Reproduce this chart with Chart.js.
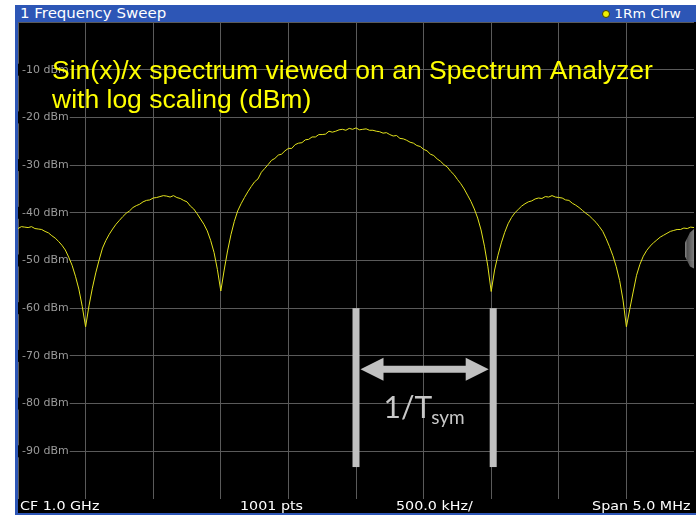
<!DOCTYPE html>
<html>
<head>
<meta charset="utf-8">
<script src="https://cdn.jsdelivr.net/npm/chart.js@4/dist/chart.umd.min.js"></script>
<style>
  html, body { margin: 0; padding: 0; background: #fff; }
  body { width: 696px; height: 517px; position: relative; overflow: hidden; font-family: "DejaVu Sans", sans-serif; }
  #frame { position: absolute; left: 15px; top: 5px; width: 681px; height: 510px; background: #000;
           box-sizing: border-box; border-left: 3px solid #2d56b6; border-bottom: 2px solid #2d56b6; }
  #titlebar { position: absolute; left: 15px; top: 5px; width: 681px; height: 17px; background: #2d56b6; color: #fff;
              font-size: 14px; line-height: 17px; white-space: nowrap; }
  #titlebar span { position: absolute; top: 0; display: inline-block; }
  #titlebar .left { left: 5px; transform: scaleX(1.07); transform-origin: left center; }
  #titlebar .right { right: 15px; font-size: 13px; transform: scaleX(1.06); transform-origin: right center; }
  #titlebar .dot { right: 86px; top: 5px; width: 6px; height: 6px; border-radius: 50%;
                   background: #f0f000; border: 1px solid #404000; }
  #footer { position: absolute; left: 18px; top: 499px; width: 678px; height: 14px; background: #000; color: #fff;
            font-size: 13px; line-height: 14px; white-space: nowrap; }
  #footer span { position: absolute; top: 0; display: inline-block; transform: scaleX(1.1); transform-origin: left center; }
  #footer span.r { transform-origin: right center; }
  #plot { position: absolute; left: 18px; top: 22px; }
</style>
</head>
<body>
<div id="frame"></div>
<div id="titlebar"><span class="left">1 Frequency Sweep</span><span class="dot"></span><span class="right">1Rm Clrw</span></div>
<canvas id="plot" width="676" height="477"></canvas>
<div id="footer">
  <span style="left:2px">CF 1.0 GHz</span>
  <span style="left:222px">1001 pts</span>
  <span style="left:378px">500.0 kHz/</span>
  <span class="r" style="right:6px">Span 5.0 MHz</span>
</div>
<script>
// Sweep grid: offset from the 1.0 GHz centre frequency, in MHz (span 5 MHz)
const sweepStartMHz = -2.5;
const sweepStepMHz = 0.025;
const sweepOffsetMHz = Array.from({ length: 201 }, (_, i) => +(sweepStartMHz + i * sweepStepMHz).toFixed(3));

// Measured trace level in dBm at each sweep point
const traceLevelDbm = [
  -43.3, -42.9, -43.0, -43.1, -42.9, -43.3, -43.4, -43.5, -43.9, -44.2,
  -44.8, -45.3, -46.0, -46.8, -47.8, -49.3, -51.0, -53.3, -56.0, -59.6,
  -63.9, -59.5, -55.8, -52.6, -49.9, -47.4, -45.8, -44.5, -43.4, -42.4,
  -41.6, -40.8, -40.1, -39.6, -38.9, -38.5, -38.2, -37.7, -37.4, -37.3,
  -36.9, -36.8, -36.6, -36.4, -36.5, -36.7, -36.4, -36.8, -37.0, -37.4,
  -37.7, -38.6, -39.2, -40.2, -41.3, -42.4, -43.8, -45.8, -48.3, -51.9,
  -56.4, -52.0, -48.0, -44.6, -41.8, -39.6, -38.1, -36.8, -35.6, -34.5,
  -33.5, -32.9, -31.5, -30.7, -29.9, -29.0, -28.6, -27.9, -27.7, -27.0,
  -26.5, -26.5, -25.7, -25.4, -25.3, -24.7, -24.6, -24.1, -24.1, -23.6,
  -23.6, -23.5, -22.9, -23.1, -22.9, -22.6, -22.5, -22.7, -22.3, -22.5,
  -22.2, -22.6, -22.5, -22.4, -22.7, -22.7, -22.9, -23.0, -23.3, -23.2,
  -23.6, -23.9, -23.8, -24.4, -24.5, -24.8, -25.2, -25.4, -25.9, -26.1,
  -26.7, -27.0, -27.7, -28.0, -28.7, -29.2, -29.9, -30.4, -31.3, -32.0,
  -33.0, -33.9, -35.0, -36.3, -37.6, -39.2, -41.1, -43.6, -47.0, -51.2,
  -56.5, -52.0, -48.9, -46.3, -44.1, -42.3, -41.0, -40.0, -39.3, -38.6,
  -38.1, -37.7, -37.5, -37.1, -36.9, -37.0, -36.6, -36.7, -36.4, -36.7,
  -36.8, -36.9, -37.3, -37.4, -38.0, -38.4, -38.9, -39.5, -40.1, -40.6,
  -41.3, -42.0, -42.9, -43.9, -45.4, -47.1, -49.0, -51.3, -54.2, -58.3,
  -63.9, -60.2, -56.6, -53.1, -50.8, -49.1, -47.9, -47.0, -46.3, -45.7,
  -45.1, -44.7, -44.3, -43.9, -43.7, -43.5, -43.5, -43.2, -43.3, -43.0,
  -43.1
];

// Reference level grid
const yTickValues = [-10, -20, -30, -40, -50, -60, -70, -80, -90];
const yTickLabels = ['-10 dBm', '-20 dBm', '-30 dBm', '-40 dBm', '-50 dBm', '-60 dBm', '-70 dBm', '-80 dBm', '-90 dBm'];

// Symbol-rate marker: main-lobe centre to first null, and where the bracket sits in level
const tsymFromMHz = 0;
const tsymToMHz = 1.0;
const tsymBarTopDbm = -60;
const tsymBarBottomDbm = -93.3;
const tsymArrowDbm = -72.8;
const tsymTextDbm = -83.0;

const noteLines = ['Sin(x)/x spectrum viewed on an Spectrum Analyzer', 'with log scaling (dBm)'];

// Level labels sit inside the grid on a black patch, under the trace
const levelLabels = {
  id: 'levelLabels',
  beforeDatasetsDraw(chart) {
    const { ctx, chartArea, scales: { y } } = chart;
    ctx.save();
    ctx.font = '11px "DejaVu Sans"';
    ctx.textBaseline = 'middle';
    yTickValues.forEach((v, i) => {
      const py = y.getPixelForValue(v);
      const w = ctx.measureText(yTickLabels[i]).width;
      ctx.fillStyle = '#000';
      ctx.fillRect(chartArea.left, py - 6, 4 + w + 1, 12);
      ctx.fillStyle = '#9a9a9a';
      ctx.fillText(yTickLabels[i], chartArea.left + 4, py);
    });
    ctx.restore();
  }
};

// Overlays: the 1/Tsym bracket, the explanatory note and the side handle
const overlays = {
  id: 'overlays',
  afterDatasetsDraw(chart) {
    const { ctx, chartArea, scales: { x, y } } = chart;
    ctx.save();

    // side handle at the right edge
    const hy = y.getPixelForValue(-47.5);
    const hx = chartArea.right;
    const g = ctx.createLinearGradient(hx - 10, 0, hx, 0);
    g.addColorStop(0, 'rgba(170,170,170,0.9)');
    g.addColorStop(0.35, 'rgba(90,90,90,0.9)');
    g.addColorStop(1, 'rgba(140,140,140,0.9)');
    ctx.fillStyle = g;
    ctx.beginPath();
    ctx.moveTo(hx + 4, hy - 23);
    ctx.lineTo(hx - 4, hy - 16);
    ctx.lineTo(hx - 9, hy - 6);
    ctx.lineTo(hx - 9, hy + 8);
    ctx.lineTo(hx - 4, hy + 18);
    ctx.lineTo(hx + 4, hy + 22);
    ctx.closePath();
    ctx.fill();

    // bracket bars
    const grey = '#c0c0c0';
    const xa = x.getPixelForValue(tsymFromMHz);
    const xb = x.getPixelForValue(tsymToMHz) + 2;
    const yt = y.getPixelForValue(tsymBarTopDbm);
    const yb = y.getPixelForValue(tsymBarBottomDbm);
    const barW = 7;
    ctx.fillStyle = grey;
    ctx.fillRect(xa - barW / 2, yt, barW, yb - yt);
    ctx.fillRect(xb - barW / 2, yt, barW, yb - yt);

    // double-headed arrow between the bars
    const ay = y.getPixelForValue(tsymArrowDbm);
    const l = xa + barW / 2 + 1, r = xb - barW / 2 - 1;
    const headL = 23, headH = 11.5, shaft = 3.5;
    ctx.beginPath();
    ctx.moveTo(l, ay);
    ctx.lineTo(l + headL, ay - headH);
    ctx.lineTo(l + headL, ay - shaft);
    ctx.lineTo(r - headL, ay - shaft);
    ctx.lineTo(r - headL, ay - headH);
    ctx.lineTo(r, ay);
    ctx.lineTo(r - headL, ay + headH);
    ctx.lineTo(r - headL, ay + shaft);
    ctx.lineTo(l + headL, ay + shaft);
    ctx.lineTo(l + headL, ay + headH);
    ctx.closePath();
    ctx.fill();

    // 1/Tsym label
    const ty = y.getPixelForValue(tsymTextDbm);
    ctx.font = '30px Lato';
    const mainW = ctx.measureText('1/T').width;
    ctx.font = '19px Lato';
    const subW = ctx.measureText('sym').width;
    const tx = (xa + xb) / 2 - (mainW + subW) / 2;
    ctx.fillStyle = '#c8c8c8';
    ctx.textBaseline = 'alphabetic';
    ctx.font = '30px Lato';
    ctx.fillText('1/T', tx, ty);
    ctx.font = '19px Lato';
    ctx.fillText('sym', tx + mainW - 1, ty + 6);

    // explanatory note
    ctx.fillStyle = '#ffff00';
    ctx.font = '26.5px "Liberation Sans"';
    ctx.fillText(noteLines[0], chartArea.left + 34, chartArea.top + 57);
    ctx.fillText(noteLines[1], chartArea.left + 34, chartArea.top + 86);

    ctx.restore();
  }
};

const gridOpts = { color: '#5a5a5a', lineWidth: 1, drawTicks: false };

new Chart(document.getElementById('plot'), {
  type: 'line',
  data: {
    datasets: [{
      label: '1Rm Clrw',
      data: traceLevelDbm.map((v, i) => ({ x: sweepOffsetMHz[i], y: v })),
      borderColor: '#e4e41c',
      borderWidth: 1,
      pointRadius: 0,
      tension: 0,
      fill: false
    }]
  },
  options: {
    responsive: false,
    devicePixelRatio: 1,
    animation: false,
    layout: { padding: 0 },
    plugins: { legend: { display: false }, tooltip: { enabled: false } },
    scales: {
      x: { type: 'linear', min: -2.5, max: 2.5, ticks: { display: false, stepSize: 0.5 }, grid: gridOpts, border: { display: false } },
      y: { type: 'linear', min: -100, max: 0, ticks: { display: false, stepSize: 10 }, grid: gridOpts, border: { display: false } }
    }
  },
  plugins: [levelLabels, overlays]
});
</script>
</body>
</html>
